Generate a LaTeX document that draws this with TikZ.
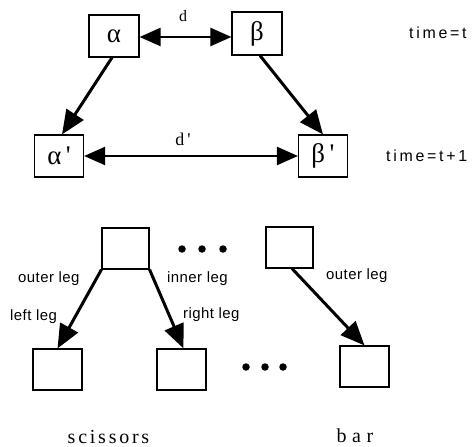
\documentclass[tikz,border=0pt]{standalone}
\usepackage{fontspec}
\setmainfont{Liberation Serif}
\setsansfont{Liberation Sans}
\usetikzlibrary{arrows.meta}
\begin{document}
\begin{tikzpicture}[x=1bp,y=-1bp,
  box/.style={draw, line width=1.1bp, minimum width=49bp, minimum height=42bp, inner sep=0pt},
  greek/.style={font=\fontsize{27}{29}\selectfont},
  dlabel/.style={font=\fontsize{18}{20}\selectfont, anchor=base, inner sep=0pt},
  timelabel/.style={font=\sffamily\fontsize{16}{18}\selectfont\addfontfeature{LetterSpace=17}, anchor=base west, inner sep=0pt},
  leglabel/.style={font=\sffamily\fontsize{15}{17}\selectfont\addfontfeature{LetterSpace=3}, anchor=base west, inner sep=0pt},
  kindlabel/.style={font=\fontsize{20}{22}\selectfont\addfontfeature{LetterSpace=#1}, anchor=base, inner sep=0pt},
  legarrow/.style={line width=3bp, -{Triangle[length=24bp,width=20bp]}},
  distarrow/.style={line width=2.2bp, {Triangle[length=21bp,width=18bp]}-{Triangle[length=21bp,width=18bp]}},
  dotmark/.style={circle, fill, inner sep=0pt, minimum size=7.5bp}
]
\useasboundingbox (0,0) rectangle (474,447);

% time t and time t+1
\node[box, greek, minimum width=50bp] (a) at (114,36) {α};
\node[box, greek, minimum width=50bp, minimum height=43bp] (b) at (257,33.5) {β};
\node[box, greek] (a2) at (59,156) {α\,\textquotesingle};
\node[box, greek] (b2) at (323,156) {β\,\textquotesingle};

\draw[distarrow] (a.east |- 0,37) -- (b.west |- 0,37);
\node[dlabel, font=\fontsize{16}{18}\selectfont] (d) at (183,22) {d};
\draw[distarrow] (a2.east) -- (b2.west);
\node[dlabel] (d2) at (183,146) {d\,\textquotesingle};

\draw[legarrow] ([xshift=-2bp]a.south) -- ([xshift=3bp]a2.north);
\draw[legarrow] ([xshift=3bp]b.south) -- (b2.north);

\node[timelabel] (t0) at (409,38.5) {time=t};
\node[timelabel] (t1) at (386,161.5) {time=t+1};

% scissors and bar
\node[box, minimum width=47bp, minimum height=41bp] (sTop) at (125.5,248.5) {};
\node[box, minimum width=47bp, minimum height=41bp] (bTop) at (289.5,247.5) {};
\node[box, minimum height=41bp] (sLeft) at (57.5,369.5) {};
\node[box, minimum height=41bp] (sMid) at (181.5,369.5) {};
\node[box, minimum height=41bp] (bBot) at (364.5,366.5) {};

\draw[legarrow] (sTop.south west) -- (sLeft.north);
\draw[legarrow] (sTop.south east) -- ([xshift=2bp]sMid.north);
\draw[legarrow] ([xshift=2.5bp]bTop.south) -- (bBot.north);

\node[leglabel] (lo) at (18,282) {outer leg};
\node[leglabel] (li) at (167,282) {inner leg};
\node[leglabel] (ll) at (10,320.5) {left leg};
\node[leglabel] (lr) at (183,318) {right leg};
\node[leglabel] (lb) at (326,279) {outer leg};

\node[dotmark] (u1) at (182,249) {};
\node[dotmark] (u2) at (202,249) {};
\node[dotmark] (u3) at (223,249) {};
\node[dotmark] (v1) at (246,367) {};
\node[dotmark] (v2) at (265,367) {};
\node[dotmark] (v3) at (283,367) {};

\node[kindlabel=14] (ks) at (108.5,443) {scissors};
\node[kindlabel=28] (kb) at (355,442) {bar};
\end{tikzpicture}
\end{document}
